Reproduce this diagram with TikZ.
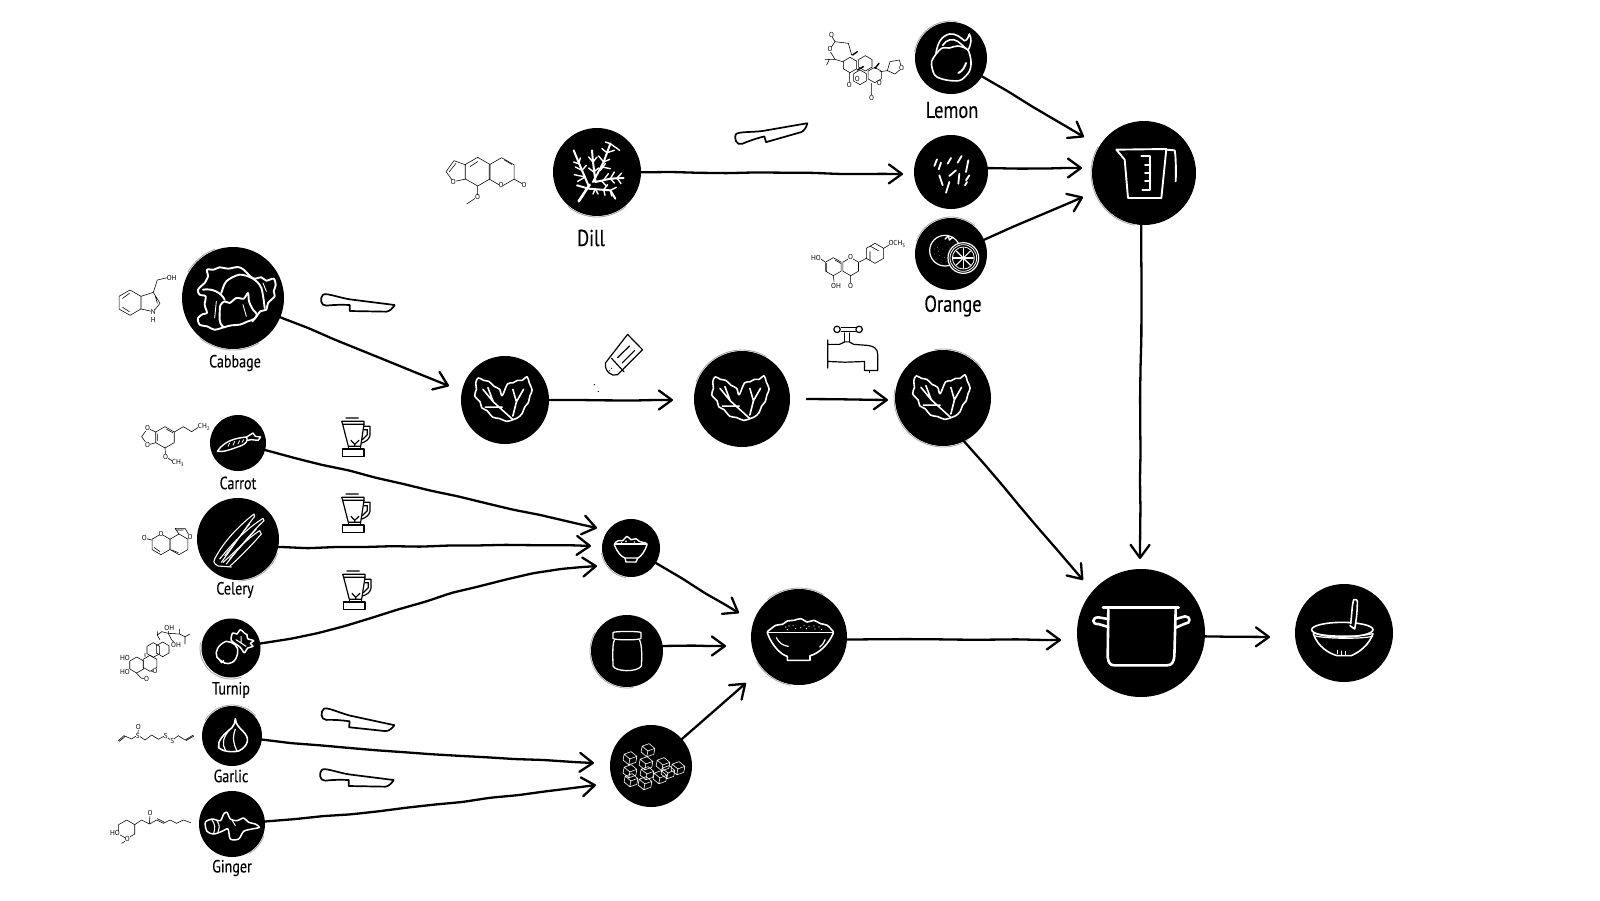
\documentclass[tikz,border=0pt]{standalone}
\usepackage{fontspec}
\setmainfont{PT Sans}[FakeStretch=.8,FakeBold=.25]
\newfontfamily\molfont{PT Sans}
\usetikzlibrary{arrows.meta,decorations.pathmorphing}
\tikzset{
  disc/.style={circle,fill=black,draw=none,inner sep=0pt},
  lab/.style={inner sep=0pt,text=black},
  conn/.style={line width=1.15pt,line cap=round,rounded corners=1.5pt,
    -{Straight Barb[length=6.5pt,width=9.5pt,round]},
    decorate,decoration={random steps,segment length=14pt,amplitude=.3pt,pre length=1pt,post length=9pt}},
  ic/.style={draw=white,line width=.95pt,line join=round,line cap=round},
  icthin/.style={draw=white,line width=.4pt,line join=round,line cap=round},
  tool/.style={draw=black,line width=.85pt,line join=round,line cap=round},
  toolthin/.style={draw=black,line width=.6pt,line join=round,line cap=round},
  mol/.style={draw=black,line width=.28pt,line join=round,line cap=round},
  moltxt/.style={font=\molfont\fontsize{3.6}{4}\selectfont,inner sep=0pt,fill=white},
  rimline/.style={draw=gray!70,line width=.4pt},
  % ---------- white icons, coordinates in 3x zoom units about the disc centre
  lemonicon/.pic={\begin{scope}[scale=1/3]
    \draw[ic,line width=.8pt] plot[smooth cycle] coordinates{(-30,-28)(-58,10)(-50,50)(-30,62)(0,68)(30,66)(55,40)(60,10)(50,-25)(20,-36)(-5,-30)};
    \draw[ic,line width=.8pt] (-45,-15) .. controls (-40,-45) and (-30,-65) .. (-5,-72) .. controls (15,-75) and (30,-60) .. (40,-52) .. controls (48,-52) and (52,-62) .. (55,-72) .. controls (62,-60) and (62,-45) .. (52,-25);
    \draw[ic,line width=.8pt] (-25,-38) .. controls (-15,-55) and (5,-60) .. (20,-50) .. controls (30,-42) and (38,-35) .. (45,-28);
    \draw[ic] (22,45) .. controls (35,40) and (42,25) .. (45,15);
  \end{scope}},
  choppedicon/.pic={\begin{scope}[scale=1/3]
    \foreach \a/\b/\c/\d in {-50/-18/-42/-38,-37/-8/-30/-28,-10/-25/0/-42,20/-28/32/-48,45/0/52/-35,-35/10/-25/40,-5/12/15/-5,22/35/25/5,-15/62/-5/30,45/25/55/10,42/40/48/30}
      \draw[ic,line width=.9pt] (\a,\b) -- (\c,\d);
  \end{scope}},
  orangeicon/.pic={\begin{scope}[scale=1/3]
    \draw[ic,line width=.6pt] (-18,-10) circle[radius=46];
    \foreach \a/\b in {-40/-20,-50/0,-35/5,-45/15,-25/-15,-20/10,-30/25,-12/-28,-50/-15,-38/-8,-15/22,-5/-18}
      \fill[white] (\a,\b) circle[radius=.9];
    \draw[ic,line width=.7pt] (-18,-45) -- (-8,-55) -- (-5,-42) -- (5,-50);
    \fill[black] (37,12) circle[radius=47];
    \draw[ic,line width=.6pt] (37,12) circle[radius=46];
    \draw[icthin] (37,12) circle[radius=40];
    \draw[icthin] (37,12) circle[radius=33];
    \foreach \t in {0,45,...,315} \draw[icthin,line width=.6pt] (37,12) -- +(\t:30);
  \end{scope}},
  jugicon/.pic={\begin{scope}[scale=1/3]
    \draw[ic] (-83,-70) -- (67,-72) -- (52,75) -- (-48,75) -- (-58,-40) -- cycle;
    \draw[ic] (67,-70) -- (92,-68) .. controls (96,-50) and (96,0) .. (95,25);
    \draw[ic] (-8,-50) -- (19,-50) -- (19,50) -- (-5,50);
    \draw[ic] (3,-25) -- (19,-25) (3,0) -- (19,0) (3,25) -- (19,25);
  \end{scope}},
  dillicon/.pic={\begin{scope}[scale=1/3]
    \draw[ic,line width=1.3pt] (-55,88) -- (-22,38);
    \draw[ic,line width=1pt] (-25,42) -- (-45,-5) -- (-70,-65) (-5,25) -- (-12,-30) -- (-15,-65) (-12,30) -- (20,-30) -- (40,-85)
      (-5,30) -- (40,20) -- (80,18) (-25,50) -- (40,55) -- (55,80) (-25,50) -- (-60,40);
    \foreach \a/\b/\c/\d in {-55/-25/-70/-30,-55/-25/-50/-42,-45/-5/-65/-15,-45/-5/-32/-20,-35/15/-68/8,-35/15/-58/28,-12/-30/-25/-45,-12/-30/0/-45,-10/0/-25/-12,-10/0/5/-12,
      20/-30/5/-48,20/-30/38/-38,30/-58/15/-70,30/-58/52/-65,40/-85/25/-90,40/-85/68/-65,10/-5/25/-25,15/-15/40/-10,
      40/20/52/0,40/20/52/33,60/18/74/3,60/18/72/35,20/24/34/5,15/28/28/42,
      20/53/32/38,20/53/24/70,40/55/58/46,40/55/44/72,-5/50/-12/66,-5/50/3/66}
      \draw[ic,line width=.7pt] (\a,\b) -- (\c,\d);
  \end{scope}},
  cabbageicon/.pic={\begin{scope}[scale=1/3]
    \draw[ic] plot[smooth,tension=.5] coordinates{(-85,-45)(-75,-65)(-78,-85)(-58,-85)(-40,-92)(-15,-88)(15,-93)(32,-85)(45,-72)(62,-58)(85,-62)(100,-52)(122,-58)(128,-38)(122,-20)(125,-5)(105,15)(100,35)(82,40)(65,62)(45,70)(20,80)(-5,82)(-28,88)(-55,95)(-78,85)(-100,80)(-105,60)(-90,48)(-78,45)(-85,20)(-82,-5)(-100,-10)(-105,-25)(-85,-45)};
    \draw[ic] plot[smooth,tension=.5] coordinates{(-40,50)(-38,22)(-25,10)(-10,15)(10,0)(32,2)(45,-15)(48,10)(60,35)(72,50)(58,70)};
    \draw[ic] plot[smooth] coordinates{(-35,-15)(-20,-50)(20,-70)(60,-58)(85,-30)(95,30)};
    \draw[ic] (-90,-25) .. controls (-60,-30) and (-35,-15) .. (-25,5);
    \draw[ic] (-40,50) .. controls (-42,75) and (-35,85) .. (-25,88);
    \draw[ic,line width=.45pt] (-55,60) -- (-50,10) (40,55) -- (30,20) (100,-20) -- (90,-45);
  \end{scope}},
  carroticon/.pic={\begin{scope}[scale=1/3]
    \draw[ic,line width=.7pt] (-62,25) .. controls (-40,-8) and (-5,-15) .. (26,-18) .. controls (30,-5) and (25,0) .. (10,8) .. controls (-20,18) and (-40,28) .. cycle;
    \draw[ic,line width=.7pt] (26,-18) -- (45,-30) -- (52,-20) -- (68,-18) -- (60,-8) -- (40,-10) -- (28,-8);
    \foreach \a/\b/\c/\d in {-30/10/-25/0,-15/7/-10/-5,0/3/5/-7,12/-2/17/-10}
      \draw[icthin] (\a,\b) -- (\c,\d);
  \end{scope}},
  celeryicon/.pic={\begin{scope}[scale=1/3]
    \draw[ic,line width=.55pt] (-70,60) .. controls (-50,20) and (-10,-30) .. (48,-75) -- (50,-68) .. controls (20,-30) and (-20,30) .. (-50,70);
    \draw[ic,line width=.55pt] (-55,60) .. controls (-30,30) and (10,-20) .. (75,-62) -- (78,-55) .. controls (50,-30) and (0,30) .. (-35,75);
    \draw[ic,line width=.55pt] (-45,70) .. controls (-20,50) and (25,0) .. (65,-25) -- (70,-15) .. controls (40,20) and (0,60) .. (-25,82);
    \draw[ic,line width=.55pt] (-70,60) .. controls (-78,70) and (-65,85) .. (-45,82) -- (-20,84);
    \draw[ic,line width=.45pt] (-40,50) -- (35,-45) (-25,60) -- (55,-30);
  \end{scope}},
  turnipicon/.pic={\begin{scope}[scale=1/3]
    \draw[ic,line width=.75pt] (-15,-20) .. controls (-38,-10) and (-50,10) .. (-42,28) .. controls (-30,42) and (-15,45) .. (-20,45) .. controls (-5,50) and (15,45) .. (20,15) .. controls (25,-5) and (5,-20) .. (-15,-20);
    \draw[ic,line width=.75pt] (-35,35) -- (-28,44) -- (-22,38);
    \draw[ic,line width=.75pt] plot[smooth cycle,tension=.5] coordinates{(0,-25)(5,-45)(18,-42)(28,-55)(40,-45)(48,-40)(50,-28)(68,-22)(58,-14)(66,-5)(50,0)(40,14)(28,-2)(10,-15)};
    \draw[ic,line width=.5pt] (15,-25) -- (45,-5) (30,-35) -- (30,-15);
  \end{scope}},
  garlicicon/.pic={\begin{scope}[scale=1/3]
    \draw[ic,line width=.8pt] (10,-52) .. controls (12,-35) and (18,-30) .. (32,-15) .. controls (55,5) and (50,30) .. (20,45) .. controls (-5,50) and (-30,45) .. (-40,35) .. controls (-45,15) and (-25,-5) .. (0,-25) .. controls (8,-32) and (8,-42) .. (10,-52) -- cycle;
    \draw[ic,line width=.6pt] (-8,-18) .. controls (-28,5) and (-30,25) .. (-20,42);
    \draw[ic,line width=.6pt] (10,-20) .. controls (0,5) and (5,25) .. (15,45);
  \end{scope}},
  gingericon/.pic={\begin{scope}[scale=1/3]
    \draw[ic,line width=.75pt] plot[smooth cycle,tension=.5] coordinates{(-80,-5)(-60,-15)(-35,-10)(-25,-30)(-15,-35)(-5,-15)(15,-10)(35,-18)(50,-5)(70,0)(82,10)(60,15)(35,22)(20,45)(-5,45)(-12,15)(-30,22)(-55,30)(-75,22)};
    \draw[ic,line width=.55pt] (-60,-12) .. controls (-50,0) and (-50,15) .. (-55,28) (-45,-10) .. controls (-35,5) and (-38,15) .. (-42,25);
    \draw[ic,line width=.5pt] (0,-12) -- (10,5);
  \end{scope}},
  leaficon/.pic={\begin{scope}[scale=1.07/3]
    \draw[ic,line width=.8pt] plot[smooth,tension=.6] coordinates{(22,55)(5,60)(-15,52)(-35,48)(-50,30)(-65,22)(-70,5)(-85,-12)(-80,-30)(-82,-48)(-75,-62)(-60,-55)(-45,-52)(-30,-38)(-15,-30)(-8,-12)(7,-45)(22,-48)(35,-55)(48,-55)(62,-65)(68,-48)(76,-28)(70,-12)(65,8)(55,20)(48,38)(35,50)(22,55)};
    \draw[ic,line width=.8pt] (-62,-30) -- (-33,5) -- (22,55) (-48,-35) -- (-33,5) (-55,20) -- (-8,20);
    \draw[ic,line width=.8pt] (22,-30) -- (32,5) -- (22,45) (52,-30) -- (32,5);
  \end{scope}},
  pureeicon/.pic={\begin{scope}[scale=1/3]
    \draw[ic,line width=.7pt] (-50,-12) -- (48,-12);
    \draw[ic,line width=.7pt] (-50,-10) .. controls (-40,15) and (-30,25) .. (-18,30) -- (22,30) .. controls (32,22) and (42,10) .. (48,-10);
    \draw[ic,line width=.7pt] (-18,30) -- (-15,42) -- (15,42) -- (20,30);
    \draw[ic,line width=.7pt] plot[smooth] coordinates{(-48,-15)(-38,-22)(-25,-22)(-12,-35)(0,-25)(15,-28)(25,-20)(45,-15)};
    \fill[white] (-15,-20) circle[radius=3] (10,-18) circle[radius=2.5] (-28,-17) circle[radius=2];
  \end{scope}},
  jaricon/.pic={\begin{scope}[scale=1/3]
    \draw[ic,line width=.65pt] (-42,-55) .. controls (-42,-60) and (42,-60) .. (42,-55) -- (42,-38) .. controls (42,-32) and (-42,-32) .. (-42,-38) -- cycle;
    \draw[ic,line width=.65pt] (-38,-32) .. controls (-45,-20) and (-42,30) .. (-42,45) .. controls (-35,62) and (30,65) .. (43,45) .. controls (45,20) and (45,-20) .. (38,-32);
  \end{scope}},
  cubeicon/.pic={\begin{scope}[scale=.46,rotate=-10]
    \draw[draw=white,line width=.3pt,line join=round] (-14,-6) -- (0,-14) -- (14,-6) -- (14,7) -- (0,15) -- (-14,7) -- cycle (-14,-6) -- (0,2) -- (14,-6) (0,2) -- (0,15);
  \end{scope}},
  bowlicon/.pic={\begin{scope}[scale=1/3]
    \draw[ic,line width=.8pt] (-95,-14) -- (103,-14);
    \draw[ic,line width=.8pt] (-95,-12) .. controls (-80,30) and (-50,55) .. (-35,58) -- (-35,70) -- (33,70) -- (33,56) .. controls (60,50) and (90,20) .. (103,-12);
    \draw[ic,line width=.8pt] plot[smooth] coordinates{(-95,-16)(-70,-35)(-50,-38)(-35,-48)(-15,-50)(5,-55)(25,-45)(45,-50)(65,-40)(85,-35)(103,-16)};
    \draw[ic,line width=.6pt] (-68,2) .. controls (-60,18) and (-48,26) .. (-32,28);
    \draw[ic,line width=.6pt] (62,30) .. controls (72,22) and (76,15) .. (78,8);
    \foreach \a/\b in {-40/-30,-35/-22,-18/-35,-10/-25,15/-35,22/-25,30/-32,45/-33,48/-24,60/-30,68/-23,-30/-33,5/-28}
      \fill[white] (\a,\b) circle[radius=1.8];
  \end{scope}},
  poticon/.pic={\begin{scope}[scale=1/3]
    \draw[ic,line width=1.3pt] (-114,-76) -- (113,-76);
    \draw[ic,line width=1.3pt] (-98,-70) -- (-100,72) .. controls (-98,90) and (-92,97) .. (-80,97) -- (78,97) .. controls (92,97) and (98,88) .. (100,70) -- (104,-70);
    \draw[ic,line width=1.3pt] (-98,-42) -- (-128,-47) .. controls (-148,-47) and (-148,-25) .. (-128,-27) -- (-98,-18);
    \draw[ic,line width=1.3pt] (104,-42) -- (132,-50) .. controls (150,-50) and (150,-28) .. (132,-28) -- (104,-16);
  \end{scope}},
  finalicon/.pic={\begin{scope}[scale=1/3]
    \draw[ic,line width=.8pt] (-5,-10) ellipse[x radius=92,y radius=22];
    \draw[ic,line width=.6pt] (-92,0) .. controls (-50,12) and (50,12) .. (85,2);
    \draw[ic,line width=.6pt] (-90,8) .. controls (-50,18) and (50,18) .. (86,10);
    \draw[ic,line width=.8pt] (-92,2) .. controls (-80,40) and (-45,62) .. (-20,68) -- (22,68) .. controls (50,55) and (75,35) .. (87,2);
    \fill[black] (22,-25) -- (28,-100) -- (40,-100) -- (35,-15) -- cycle;
    \draw[ic,line width=.8pt] (20,-28) .. controls (24,-60) and (24,-85) .. (29,-100) .. controls (36,-102) and (40,-100) .. (40,-95) .. controls (40,-60) and (36,-35) .. (32,-12) -- (18,-22);
    \draw[ic,line width=.5pt] (-20,62) -- (-20,52) (-8,65) -- (-8,54) (5,65) -- (5,55);
  \end{scope}},
  % ---------- black tool icons
  knifeicon/.pic={\begin{scope}[scale=1/3]
    \draw[tool,fill=white] (-105,-28) .. controls (-95,-34) and (-60,-20) .. (-25,-14) -- (110,3) .. controls (105,12) and (95,22) .. (85,23) -- (-25,21) -- (-25,3) .. controls (-50,2) and (-70,2) .. (-95,5) .. controls (-114,6) and (-114,-20) .. (-105,-28) -- cycle;
  \end{scope}},
  blendericon/.pic={\begin{scope}[scale=1/3]
    \draw[toolthin] (-27,-57) -- (10,-57) (-40,-47) -- (27,-47) (-40,-47) -- (-37,-38) -- (27,-38) -- (27,-47);
    \draw[toolthin] (-37,-38) -- (-20,28) -- (17,28) -- (27,-38);
    \draw[toolthin] (27,-32) -- (45,-32) -- (45,-5) .. controls (42,8) and (32,14) .. (20,18);
    \draw[toolthin] (27,-22) -- (37,-22) -- (37,-7) -- (22,8);
    \draw[toolthin] (-12,10) -- (-1,22) -- (12,10) (-1,22) -- (-1,28);
    \draw[toolthin] (-37,36) -- (27,36) -- (27,58) -- (-37,58) -- cycle (-20,28) -- (-20,36) (17,28) -- (17,36);
  \end{scope}},
  shakericon/.pic={\begin{scope}[scale=1.07/3]
    \draw[toolthin] (10,-55) -- (52,-12) -- (-18,58) .. controls (-35,65) and (-55,48) .. (-52,25) -- cycle;
    \draw[toolthin] (-35,12) -- (0,50);
    \draw[toolthin] (-18,10) -- (15,-22) (-5,25) -- (30,-10);
    \fill[black] (-35,40) circle[radius=1.5] (-40,47) circle[radius=1.5] (-83,86) circle[radius=2] (-72,105) circle[radius=2];
  \end{scope}},
  tapicon/.pic={\begin{scope}[scale=1.07/3]
    \draw[toolthin] (-68,-25) -- (-68,53) (-65,-13) -- (-35,-13) -- (-20,-20) -- (-8,-20) -- (5,-13) -- (45,-10) .. controls (62,-8) and (72,0) .. (72,15) -- (72,60) -- (35,60) -- (35,35) -- (-20,37) -- (-65,35);
    \draw[toolthin] (-20,-20) -- (-20,-45) (-8,-20) -- (-8,-45);
    \draw[toolthin] (-30,-50) -- (10,-50) (-30,-60) -- (10,-60);
    \draw[toolthin] (-42,-55) circle[radius=9] (20,-55) circle[radius=9];
    \draw[toolthin,line width=.5pt] (48,62) -- (48,66);
  \end{scope}},
}
\newcommand\rim[4]{\draw[rimline] ([shift={(#3:#2)}]#1.center) arc[start angle=#3,end angle=#4,radius=#2];}
\newcommand\hx[3]{\draw[mol] (#1,#2) +(90:#3) -- +(150:#3) -- +(210:#3) -- +(270:#3) -- +(330:#3) -- +(30:#3) -- cycle;}
\begin{document}
\begin{tikzpicture}[x=.5pt,y=-.5pt]
\fill[white] (0,0) rectangle (1600,900);
\useasboundingbox (0,0) rectangle (1600,900);
% ---------- discs
\node[disc,minimum size=36pt] (lemon) at (951,58) {};
\node[disc,minimum size=37pt] (chopped) at (951,172) {};
\node[disc,minimum size=36pt] (orange) at (951,254) {};
\node[disc,minimum size=52pt] (jug) at (1144,173) {};
\node[disc,minimum size=44pt] (dill) at (597,172) {};
\node[disc,minimum size=51pt] (cabbage) at (233,298) {};
\node[disc,minimum size=28pt] (carrot) at (238,443) {};
\node[disc,minimum size=41pt] (celery) at (238,539) {};
\node[disc,minimum size=29.5pt] (turnip) at (231,648) {};
\node[disc,minimum size=30pt] (garlic) at (232,736) {};
\node[disc,minimum size=33pt] (ginger) at (232,824) {};
\node[disc,minimum size=44pt] (leafa) at (505,400) {};
\node[disc,minimum size=48pt] (leafb) at (742,399) {};
\node[disc,minimum size=48pt] (leafc) at (943,398) {};
\node[disc,minimum size=29pt] (puree) at (631,548) {};
\node[disc,minimum size=36pt] (jar) at (627,651) {};
\node[disc,minimum size=41pt] (cubes) at (651,766) {};
\node[disc,minimum size=48pt] (bowl) at (799,637) {};
\node[disc,minimum size=64pt] (pot) at (1141,633) {};
\node[disc,minimum size=49pt] (final) at (1344,633) {};
% ---------- sketchy rims
\rim{lemon}{37}{190}{280}
\rim{orange}{37}{200}{310}
\rim{jug}{53}{100}{210}
\rim{dill}{45}{50}{130}
\rim{cabbage}{52}{60}{130}
\rim{cabbage}{52}{210}{250}
\rim{celery}{42}{20}{90}
\rim{turnip}{31}{70}{190}
\rim{garlic}{31}{210}{320}
\rim{ginger}{34}{20}{60}
\rim{leafb}{49}{200}{300}
\rim{leafc}{49}{60}{190}
\rim{leafc}{49}{260}{320}
\rim{puree}{30}{100}{170}
\rim{jar}{37}{80}{210}
\rim{bowl}{49}{100}{150}
\rim{bowl}{49}{230}{300}
% ---------- icons
\pic at (lemon) {lemonicon};
\pic at (chopped) {choppedicon};
\pic at (orange) {orangeicon};
\pic at (jug) {jugicon};
\pic at (dill) {dillicon};
\pic at (cabbage) {cabbageicon};
\pic at (carrot) {carroticon};
\pic at (celery) {celeryicon};
\pic at (turnip) {turnipicon};
\pic at (garlic) {garlicicon};
\pic at (ginger) {gingericon};
\pic at (leafa) {leaficon};
\pic at (leafb) {leaficon};
\pic at (leafc) {leaficon};
\pic at (puree) {pureeicon};
\pic at (jar) {jaricon};
\foreach \a/\b in {-3/-16,-21/-8,-5/-3,12/-2,27/2,-21/5,-4/7,9/11,-20/14,-6/17,17/6}
  \pic at ([shift={(\a,\b)}]cubes.center) {cubeicon};
\pic at (bowl) {bowlicon};
\pic at (pot) {poticon};
\pic at (final) {finalicon};
% ---------- tools
\pic at (358,304) {knifeicon};
\pic[rotate=17] at (772,133) {knifeicon};
\pic[rotate=-5] at (358,721) {knifeicon};
\pic at (357,779) {knifeicon};
\pic at (355,437) {blendericon};
\pic at (355,513) {blendericon};
\pic at (356,590) {blendericon};
\pic at (624,354) {shakericon};
\pic at (852,349) {tapicon};
% ---------- labels
\node[lab,font=\fontsize{11.5}{12}\selectfont] (llemon) at (952,110) {Lemon};
\node[lab,font=\fontsize{11.5}{12}\selectfont] (lorange) at (953,306) {Orange};
\node[lab,font=\fontsize{11.5}{12}\selectfont] (ldill) at (591,238) {Dill};
\node[lab,font=\fontsize{8.8}{10}\selectfont] (lcabbage) at (235,363) {Cabbage};
\node[lab,font=\fontsize{8.8}{10}\selectfont] (lcarrot) at (238,483) {Carrot};
\node[lab,font=\fontsize{8.8}{10}\selectfont] (lcelery) at (235,590) {Celery};
\node[lab,font=\fontsize{8.8}{10}\selectfont] (lturnip) at (231,690) {Turnip};
\node[lab,font=\fontsize{8.8}{10}\selectfont] (lgarlic) at (231,776) {Garlic};
\node[lab,font=\fontsize{8.8}{10}\selectfont] (lginger) at (232,868) {Ginger};
% ---------- connector ends
\coordinate (tjuga) at (1084,137);
\coordinate (tjugb) at (1082,168);
\coordinate (tjugc) at (1083,197);
\coordinate (tchop) at (903,174);
\coordinate (tpota) at (1140,559);
\coordinate (tleafa) at (449,386);
\coordinate (tleafb) at (673,400);
\coordinate (sleafb) at (807,399);
\coordinate (tleafc) at (888,400);
\coordinate (tpotb) at (1083,580);
\coordinate (tpura) at (597,528);
\coordinate (tpurb) at (591,546);
\coordinate (tpurc) at (597,566);
\coordinate (tcuba) at (594,763);
\coordinate (tcubb) at (596,785);
\coordinate (tbowa) at (739,613);
\coordinate (tbowb) at (726,646);
\coordinate (tbowc) at (746,683);
\coordinate (tpotc) at (1061,640);
\coordinate (tfin) at (1270,637);
% ---------- connectors
\draw[conn] (lemon) -- (tjuga);
\draw[conn] (chopped.6) -- (tjugb);
\draw[conn] (orange) -- (tjugc);
\draw[conn] (dill) -- (tchop);
\draw[conn] (jug.-93) -- (tpota);
\draw[conn] (cabbage) -- (tleafa);
\draw[conn] (leafa) -- (tleafb);
\draw[conn] (sleafb) -- (tleafc);
\draw[conn] (leafc.-64) -- (tpotb);
\draw[conn] (carrot) .. controls (350,472) and (470,500) .. (tpura);
\draw[conn] (celery.-11) .. controls (350,549) and (480,543) .. (tpurb);
\draw[conn] (turnip) .. controls (380,625) and (470,575) .. (tpurc);
\draw[conn] (garlic) .. controls (350,750) and (470,757) .. (tcuba);
\draw[conn] (ginger) .. controls (350,815) and (480,800) .. (tcubb);
\draw[conn] (puree) -- (tbowa);
\draw[conn] (jar.8) -- (tbowb);
\draw[conn] (cubes) -- (tbowc);
\draw[conn] (bowl.-3) -- (tpotc);
\draw[conn] (pot.-3) -- (tfin);
% ---------- molecules (3x zoom units)
\begin{scope}[shift={(780,0)},scale=1/3]
  \hx{210}{195}{23}\hx{256}{190}{23}\hx{240}{232}{22}\hx{284}{225}{23}
  \draw[mol] (188,185) -- (165,178) -- (148,150) -- (165,125) -- (205,130) -- (215,165);
  \draw[mol] (148,178) -- (135,178) (148,178) -- (140,195) (165,178) -- (148,178);
  \draw[mol] (165,125) -- (155,108) (208,218) -- (208,250);
  \draw[mol] (275,250) -- (275,290) (300,215) -- (322,212);
  \draw[mol] (322,212) -- (330,185) -- (358,180) -- (365,205) -- (345,222) -- (322,212);
  \draw[mol,line width=.7pt] (218,165) -- (232,155) (285,205) -- (297,190) (232,210) -- (250,200);
  \node[moltxt] (mola) at (155,104) {O}; \node[moltxt] (molb) at (208,254) {O}; \node[moltxt] (molc) at (275,293) {O};
  \node[moltxt] (mold) at (150,148) {O}; \node[moltxt] (mole) at (365,203) {O}; \node[moltxt] (molf) at (232,238) {O}; \node[moltxt] (molg) at (298,250) {O};
  \hx{160}{800}{27}\hx{212}{800}{27}\hx{285}{760}{30}
  \draw[mol] (238,786) -- (259,775) (160,827) -- (162,845) (212,827) -- (212,850) (135,786) -- (120,775) (311,745) -- (330,733);
  \draw[mol] (270,738) -- (295,752) (270,782) -- (270,755) (140,790) -- (140,815) (165,780) -- (182,790);
  \node[moltxt] (molh) at (108,773) {HO}; \node[moltxt] (moli) at (168,858) {OH}; \node[moltxt] (molj) at (352,733) {OCH\textsubscript{3}};
  \node[moltxt] (molk) at (212,772) {O}; \node[moltxt] (moll) at (212,858) {O};
\end{scope}
\begin{scope}[shift={(430,100)},scale=1/3]
  \hx{143}{215}{43}\hx{215}{216}{43}
  \draw[mol] (108,195) -- (72,182) -- (48,215) -- (70,245) -- (108,237);
  \draw[mol] (78,190) -- (58,215) (252,237) -- (280,253) (143,258) -- (143,290) -- (110,312) (223,180) -- (245,193) (120,200) -- (143,185);
  \node[moltxt] (molm) at (70,247) {O}; \node[moltxt] (moln) at (213,254) {O}; \node[moltxt] (molo) at (282,254) {O}; \node[moltxt] (molp) at (143,292) {O};
\end{scope}
\begin{scope}[shift={(100,230)},scale=1/3]
  \hx{90}{218}{38}
  \draw[mol] (123,199) -- (160,187) -- (180,220) -- (160,245) -- (123,237) (160,187) -- (172,150) -- (202,143) (68,205) -- (88,190) (68,232) -- (88,245) (165,195) -- (172,220);
  \node[moltxt] (molq) at (215,143) {OH}; \node[moltxt] (molr) at (160,247) {N}; \node[moltxt] (mols) at (160,270) {H};
  \hx{195}{622}{32}
  \draw[mol] (167,606) -- (143,595) -- (125,620) -- (143,645) -- (167,638) (223,606) -- (250,590) -- (275,605) -- (298,590) (195,654) -- (197,680) -- (220,695) (172,612) -- (172,632) (200,598) -- (218,608);
  \node[moltxt] (molt) at (143,595) {O}; \node[moltxt] (molu) at (143,645) {O}; \node[moltxt] (molv) at (313,590) {CH\textsubscript{2}}; \node[moltxt] (molw) at (197,680) {O}; \node[moltxt] (molx) at (235,698) {CH\textsubscript{3}};
\end{scope}
\begin{scope}[shift={(100,490)},scale=1/3]
  \hx{183}{163}{31}\hx{237}{163}{31}
  \draw[mol] (237,132) -- (225,115) -- (255,115) -- (270,140) -- (264,147) (155,150) -- (135,145) (162,172) -- (180,185) (215,180) -- (235,188) (228,120) -- (250,120);
  \node[moltxt] (moly) at (183,132) {O}; \node[moltxt] (molz) at (133,145) {O}; \node[moltxt] (molaa) at (270,140) {O};
  \hx{110}{525}{24}\hx{150}{520}{24}\hx{160}{480}{22}\hx{188}{478}{22}
  \draw[mol] (180,450) -- (172,435) -- (185,425) -- (205,430) -- (205,418) (205,430) -- (215,450) -- (228,462) (205,430) -- (238,432) -- (238,418) (238,432) -- (255,440) -- (270,432) (255,440) -- (255,462) (172,435) -- (172,425);
  \draw[mol] (135,500) -- (135,490) (110,550) -- (125,565) -- (140,565) (155,545) -- (165,540);
  \node[moltxt] (molab) at (75,505) {HO}; \node[moltxt] (molac) at (75,545) {HO}; \node[moltxt] (molad) at (208,415) {OH}; \node[moltxt] (molae) at (228,465) {OH}; \node[moltxt] (molaf) at (140,566) {O}; \node[moltxt] (molag) at (165,543) {O};
  \draw[mol] (55,752) -- (72,737) (58,754) -- (75,740) (72,737) -- (95,747) -- (113,735) -- (135,750) -- (155,735) -- (175,748) -- (195,737) -- (215,752) -- (235,737) -- (255,750) -- (280,735) (258,752) -- (282,738) (113,735) -- (115,718);
  \node[moltxt] (molah) at (115,712) {O}; \node[moltxt] (molai) at (113,737) {S}; \node[moltxt] (molaj) at (197,737) {S}; \node[moltxt] (molak) at (217,752) {S};
  \hx{80}{1018}{28}
  \draw[mol] (104,1004) -- (125,990) -- (148,1002) -- (170,990) -- (190,1000) -- (210,990) -- (230,1000) -- (250,990) -- (272,998) (148,1002) -- (150,975) (56,1032) -- (50,1030) (85,1048) -- (65,1060) (172,986) -- (192,996);
  \node[moltxt] (molal) at (45,1030) {HO}; \node[moltxt] (molam) at (82,1047) {O}; \node[moltxt] (molan) at (150,970) {O};
\end{scope}
\end{tikzpicture}
\end{document}
